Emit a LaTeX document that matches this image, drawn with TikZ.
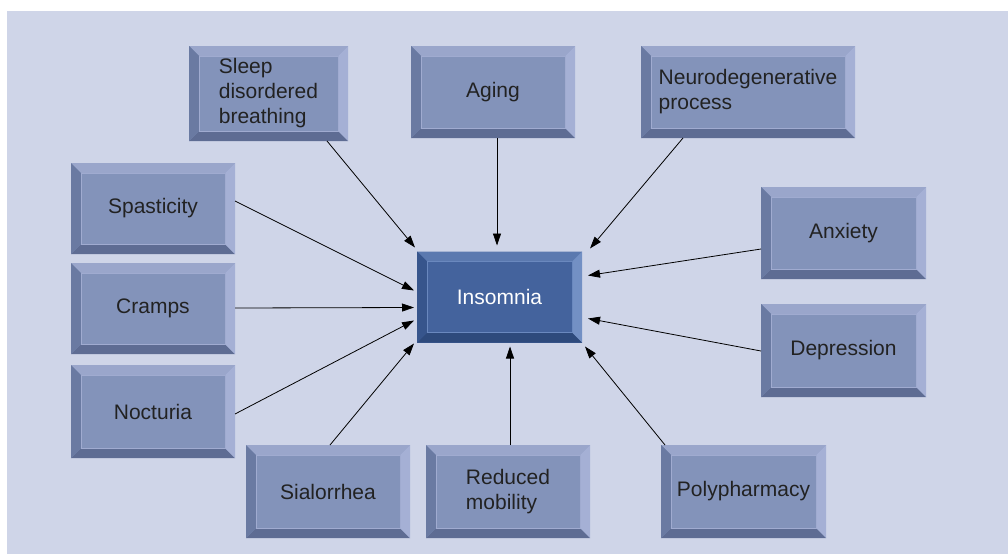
\documentclass[tikz,border=0pt]{standalone}
\usepackage{fontspec}
\setmainfont{Liberation Sans}
\usetikzlibrary{calc,arrows.meta}
\definecolor{panel}{HTML}{CFD5E8}
\definecolor{nF}{HTML}{8393BA}
\definecolor{nT}{HTML}{9AA6CB}
\definecolor{nL}{HTML}{6A7AA2}
\definecolor{nR}{HTML}{A5B0D5}
\definecolor{nB}{HTML}{5E6C93}
\definecolor{nI}{HTML}{A0ABD0}
\definecolor{iF}{HTML}{44639D}
\definecolor{iT}{HTML}{5B79AF}
\definecolor{iL}{HTML}{37558C}
\definecolor{iR}{HTML}{7390C4}
\definecolor{iB}{HTML}{2E4A7C}
\definecolor{iI}{HTML}{6A88BE}
\definecolor{txt}{HTML}{222222}
\newcommand{\bbox}[7]{% name, x1,y1,x2,y2, text, prefix
  \node[inner sep=0pt, outer sep=0pt, fill=#7F, text=txt,
        minimum width={#4-#2}, minimum height={#5-#3},
        font=\fontsize{21}{25}\selectfont, align=center]
        (#1) at ({(#2+#4)/2},{(#3+#5)/2+1}) {#6};
  \fill[#7T] (#1.north west) -- (#1.north east) -- ($(#1.north east)+(-10,10)$) -- ($(#1.north west)+(10,10)$) -- cycle;
  \fill[#7B] (#1.south west) -- (#1.south east) -- ($(#1.south east)+(-10,-10)$) -- ($(#1.south west)+(10,-10)$) -- cycle;
  \fill[#7L] (#1.north west) -- (#1.south west) -- ($(#1.south west)+(10,-10)$) -- ($(#1.north west)+(10,10)$) -- cycle;
  \fill[#7R] (#1.north east) -- (#1.south east) -- ($(#1.south east)+(-10,-10)$) -- ($(#1.north east)+(-10,10)$) -- cycle;
  \draw[#7I, line width=0.8pt] ($(#1.north west)+(10,10)$) rectangle ($(#1.south east)+(-10,-10)$);
}
\tikzset{arr/.style={draw=black, line width=0.8pt, -{Triangle[length=12pt,width=8pt]}}}
\begin{document}
\begin{tikzpicture}[x=1pt,y=-1pt]
\useasboundingbox (0,0) rectangle (1008,554);
\fill[white] (0,0) rectangle (1008,554);
\fill[panel] (7,11) rectangle (1008,554);
\bbox{sleep}{189}{45}{348}{140}{\begin{tabular}{@{}l@{}}Sleep\\disordered\\breathing\end{tabular}}{n}
\bbox{aging}{411}{45}{575}{137}{Aging}{n}
\bbox{neuro}{641}{45}{855}{137}{\begin{tabular}{@{}l@{}}Neurodegenerative\\process\end{tabular}}{n}
\bbox{spas}{71}{162}{235}{253}{Spasticity}{n}
\bbox{cramps}{71}{262}{235}{353}{Cramps}{n}
\bbox{noct}{71}{364}{235}{457}{Nocturia}{n}
\bbox{anx}{761}{186}{926}{278}{Anxiety}{n}
\bbox{dep}{761}{303}{926}{396}{Depression}{n}
\bbox{sial}{246}{444}{410}{537}{Sialorrhea}{n}
\bbox{redm}{426}{444}{590}{537}{\begin{tabular}{@{}l@{}}Reduced\\mobility\end{tabular}}{n}
\bbox{poly}{661}{444}{826}{537}{Polypharmacy}{n}
\node[inner sep=0pt, outer sep=0pt, fill=iF, text=white,
      minimum width=165, minimum height=91,
      font=\fontsize{21}{25}\selectfont] (ins) at (499.5,297) {Insomnia};
\fill[iT] (ins.north west) -- (ins.north east) -- ($(ins.north east)+(-10,10)$) -- ($(ins.north west)+(10,10)$) -- cycle;
\fill[iB] (ins.south west) -- (ins.south east) -- ($(ins.south east)+(-10,-10)$) -- ($(ins.south west)+(10,-10)$) -- cycle;
\fill[iL] (ins.north west) -- (ins.south west) -- ($(ins.south west)+(10,-10)$) -- ($(ins.north west)+(10,10)$) -- cycle;
\fill[iR] (ins.north east) -- (ins.south east) -- ($(ins.south east)+(-10,-10)$) -- ($(ins.north east)+(-10,10)$) -- cycle;
\draw[iI, line width=0.8pt] ($(ins.north west)+(10,10)$) rectangle ($(ins.south east)+(-10,-10)$);
% connectors
\draw[arr] ($(sleep.south west)+(138,0)$) -- ($(ins.north west)+(-2,-4)$);
\draw[arr] ($(aging.south west)+(86,0)$) -- ($(ins.north west)+(80,-6)$);
\draw[arr] ($(neuro.south west)+(42,0)$) -- ($(ins.north east)+(8,-3)$);
\draw[arr] ($(spas.north east)+(0,38)$) -- ($(ins.north west)+(-3,39)$);
\draw[arr] ($(cramps.north east)+(0,45)$) -- ($(ins.north west)+(-3,56)$);
\draw[arr] ($(noct.north east)+(0,49)$) -- ($(ins.north west)+(-3,69)$);
\draw[arr] ($(anx.north west)+(0,62)$) -- ($(ins.north east)+(6,24)$);
\draw[arr] ($(dep.north west)+(0,47)$) -- ($(ins.north east)+(6,67)$);
\draw[arr] ($(sial.north west)+(84,0)$) -- ($(ins.south west)+(-3,1)$);
\draw[arr] ($(redm.north west)+(84,0)$) -- ($(ins.south west)+(93,4)$);
\draw[arr] ($(poly.north west)+(4,0)$) -- ($(ins.south east)+(3,4)$);
\end{tikzpicture}
\end{document}
